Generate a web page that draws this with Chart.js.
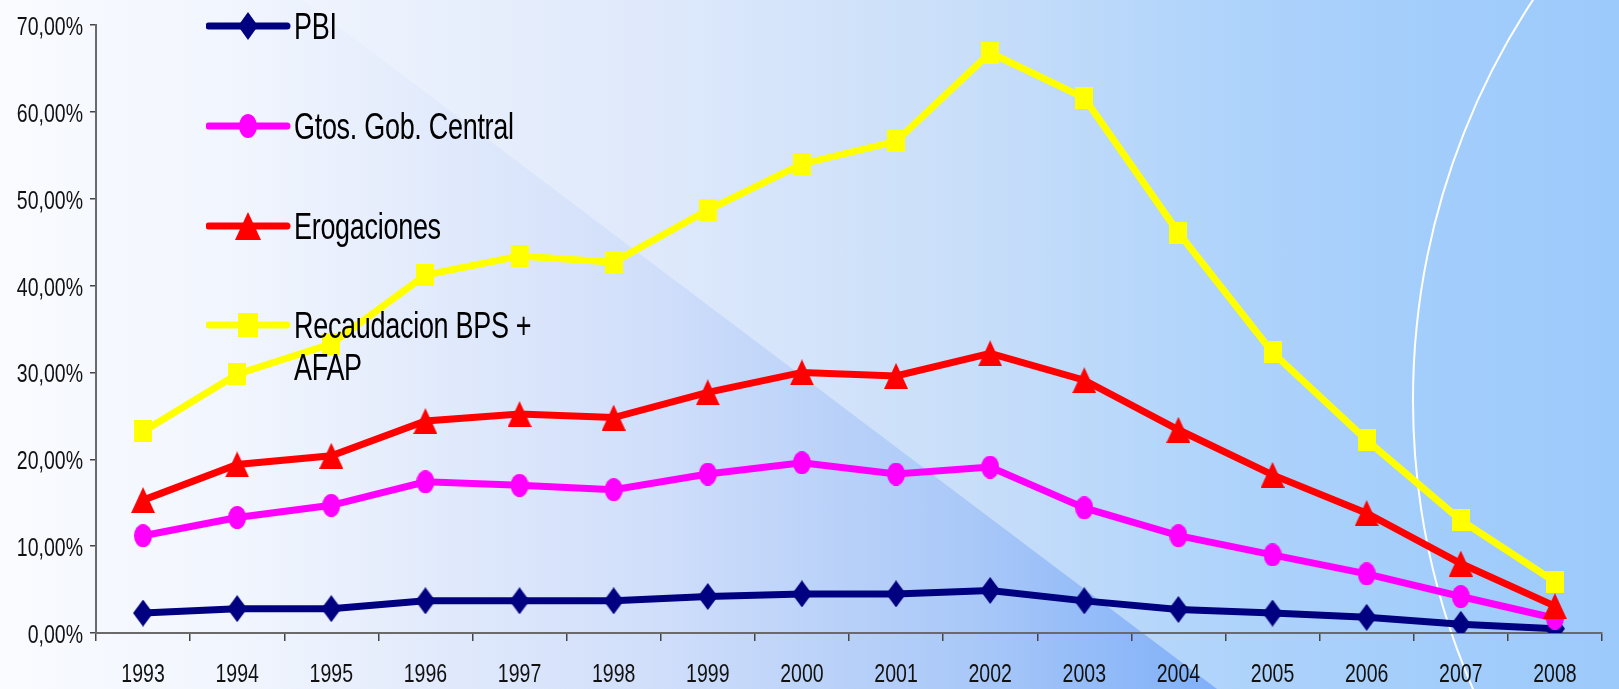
<!DOCTYPE html>
<html>
<head>
<meta charset="utf-8">
<script src="https://cdn.jsdelivr.net/npm/chart.js@4/dist/chart.umd.min.js"></script>
<style>
  html, body { margin: 0; padding: 0; }
  body { width: 1619px; height: 689px; overflow: hidden; position: relative; }
  #bg { position: absolute; left: 0; top: 0; width: 1619px; height: 689px;
        background: linear-gradient(to right, #f9fbff 0%, #eef3fd 20%, #dfe9fb 40%, #c8def9 60%, #b0d4fb 75%, #a3cdfb 88%, #9ccafb 100%); }
  #wedge { position: absolute; left: 0; top: 0; width: 1619px; height: 689px;
        clip-path: polygon(0 0, 303px 0, 1217px 689px, 0 689px);
        background: linear-gradient(to right, rgba(110,150,245,0) 15%, rgba(110,150,245,0.12) 40%, rgba(100,150,245,0.3) 60%, rgba(80,140,245,0.55) 78%); }
  #arc { position: absolute; left: 1412px; top: -327px; width: 1454px; height: 1454px;
        border: 2px solid #ffffff; border-radius: 50%; box-sizing: border-box; }
  #legend { position: absolute; left: 206px; top: 0; font-family: 'Liberation Sans', Arial, sans-serif;
        font-size: 27px; letter-spacing: -0.3px; color: #000; }
  .item { position: absolute; left: 0; white-space: nowrap; }
  .item svg { position: absolute; left: 0; }
  .item span { position: absolute; left: 88px; line-height: 30px; transform: scaleY(1.38); transform-origin: 0 0; }
</style>
</head>
<body>
<div id="bg"></div>
<div id="wedge"></div>
<div id="arc"></div>
<canvas id="mycanvas" width="1619" height="689" style="position:absolute;left:0;top:0"></canvas>
<div id="legend"></div>
<script>
var years = ['1993','1994','1995','1996','1997','1998','1999','2000','2001','2002','2003','2004','2005','2006','2007','2008'];
var pbi = [2.3, 2.8, 2.8, 3.7, 3.7, 3.7, 4.2, 4.5, 4.5, 4.9, 3.7, 2.7, 2.3, 1.8, 1.0, 0.5];
var gtos = [11.2, 13.3, 14.7, 17.4, 17.0, 16.5, 18.3, 19.6, 18.3, 19.1, 14.4, 11.2, 9.0, 6.8, 4.2, 1.7];
var erog = [15.3, 19.4, 20.4, 24.4, 25.2, 24.8, 27.7, 30.0, 29.6, 32.2, 29.1, 23.4, 18.2, 13.8, 8.0, 3.1];
var recaud = [23.2, 29.8, 33.3, 41.2, 43.4, 42.7, 48.7, 54.0, 56.6, 66.8, 61.6, 46.1, 32.3, 22.2, 13.0, 5.9];
var seriesNames = ['PBI', 'Gtos. Gob. Central', 'Erogaciones', 'Recaudacion BPS +\nAFAP'];
var yTicks = [0, 10, 20, 30, 40, 50, 60, 70];

// original picture is stretched vertically, text too
var stretch = 1.29;

// little canvases used as point markers (a bit taller than wide like the original)
function marker(shape, color, w, h){
	var c = document.createElement('canvas');
	c.width = w; c.height = h;
	var g = c.getContext('2d');
	g.fillStyle = color;
	g.beginPath();
	if(shape == 'diamond'){
		g.moveTo(w/2, 0); g.lineTo(w, h/2); g.lineTo(w/2, h); g.lineTo(0, h/2);
	} else if(shape == 'circle'){
		g.ellipse(w/2, h/2, w/2, h/2, 0, 0, Math.PI*2);
	} else if(shape == 'triangle'){
		g.moveTo(w/2, 0); g.lineTo(w, h); g.lineTo(0, h);
	} else {
		g.rect(0, 0, w, h);
	}
	g.closePath();
	g.fill();
	return c;
}

var styles = [
	{color: '#000080', shape: 'diamond', w: 20, h: 27},
	{color: '#ff00ff', shape: 'circle', w: 18, h: 23},
	{color: '#ff0000', shape: 'triangle', w: 24, h: 26},
	{color: '#ffff00', shape: 'square', w: 18, h: 22}
];
var allData = [pbi, gtos, erog, recaud];

var datasets = [];
for(var i in allData){
	var s = styles[i];
	datasets.push({
		label: seriesNames[i].replace('\n', ' '),
		data: allData[i],
		borderColor: s.color,
		backgroundColor: s.color,
		borderWidth: 7,
		pointStyle: marker(s.shape, s.color, s.w, s.h),
		pointRadius: 10,
		tension: 0,
		fill: false,
		order: 3 - i
	});
}

// tick labels drawn by hand so they can be stretched like the original
var tallLabels = {
	id: 'tallLabels',
	afterDraw: function(chart){
		var c = chart.ctx;
		var xs = chart.scales.x, ys = chart.scales.y;
		c.save();
		c.font = '19.5px "Liberation Sans", Arial, sans-serif';
		c.fillStyle = '#111';
		c.textBaseline = 'alphabetic';
		c.textAlign = 'center';
		xs.ticks.forEach(function(t, i){
			c.save();
			c.translate(xs.getPixelForTick(i), ys.bottom + 49);
			c.scale(1, stretch);
			c.fillText(xs.getLabelForValue(t.value), 0, 0);
			c.restore();
		});
		c.textAlign = 'right';
		ys.ticks.forEach(function(t){
			c.save();
			c.translate(ys.left + 83, ys.getPixelForValue(t.value) + 10);
			c.scale(1, stretch);
			c.fillText(t.value.toFixed(2).replace('.', ',') + '%', 0, 0);
			c.restore();
		});
		c.restore();
	}
};

var ctx = document.getElementById('mycanvas');
var lineGraph = new Chart(ctx, {
	type: 'line',
	data: { labels: years, datasets: datasets },
	plugins: [tallLabels],
	options: {
		responsive: false,
		animation: false,
		layout: { padding: { top: 25, right: 2, left: 0, bottom: 0 } },
		plugins: { legend: { display: false }, tooltip: { enabled: false } },
		scales: {
			x: {
				offset: true,
				grid: { offset: true, drawOnChartArea: false, tickLength: 8, color: '#444', lineWidth: 1.5 },
				border: { color: '#6a6a6a', width: 2 },
				ticks: { display: false, autoSkip: false },
				afterFit: function(scale){ scale.height = 56; }
			},
			y: {
				min: 0, max: 70,
				afterBuildTicks: function(scale){ scale.ticks = yTicks.map(function(v){ return {value: v}; }); },
				ticks: { display: false },
				grid: { drawOnChartArea: false, tickLength: 6, color: '#444', lineWidth: 1.5 },
				border: { color: '#6a6a6a', width: 2 },
				afterFit: function(scale){ scale.width = 96; }
			}
		}
	}
});

// legend, built as html
var legend = document.getElementById('legend');
var rowY = [26, 126, 226, 325];
for(var i in seriesNames){
	var s = styles[i];
	var item = document.createElement('div');
	item.className = 'item';
	item.style.top = rowY[i] + 'px';
	var mk = '';
	var cx = 42, cy = 20;
	if(s.shape == 'diamond') mk = '<polygon points="' + cx + ',' + (cy-14) + ' ' + (cx+10) + ',' + cy + ' ' + cx + ',' + (cy+14) + ' ' + (cx-10) + ',' + cy + '" fill="' + s.color + '"/>';
	else if(s.shape == 'circle') mk = '<ellipse cx="' + cx + '" cy="' + cy + '" rx="9" ry="12" fill="' + s.color + '"/>';
	else if(s.shape == 'triangle') mk = '<polygon points="' + cx + ',' + (cy-14) + ' ' + (cx+13) + ',' + (cy+14) + ' ' + (cx-13) + ',' + (cy+14) + '" fill="' + s.color + '"/>';
	else mk = '<rect x="' + (cx-10) + '" y="' + (cy-12) + '" width="20" height="24" fill="' + s.color + '"/>';
	item.innerHTML = '<svg width="90" height="40" style="top:-20px"><line x1="3" y1="20" x2="81" y2="20" stroke="' + s.color + '" stroke-width="7" stroke-linecap="round"/>' + mk + '</svg>' +
		'<span style="top:-20.4px">' + seriesNames[i].replace('\n', '<br>') + '</span>';
	legend.appendChild(item);
}
</script>
</body>
</html>
